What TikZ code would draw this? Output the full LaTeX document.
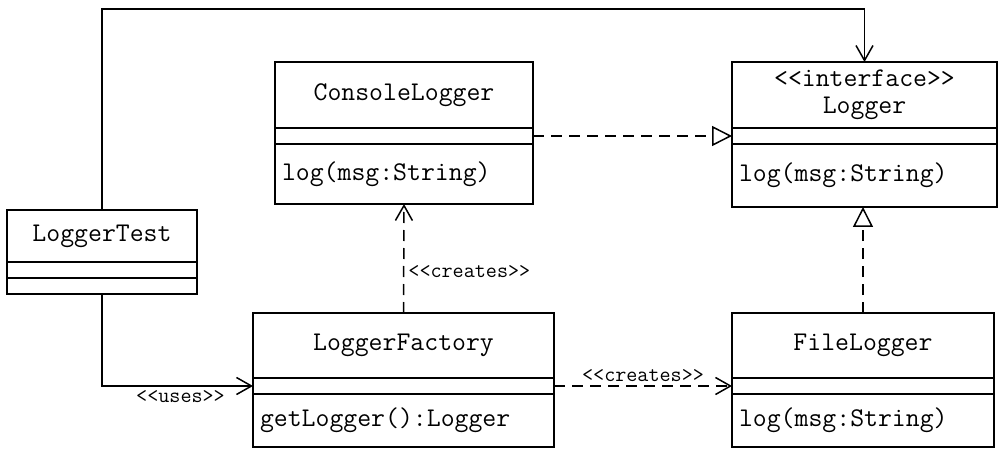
\documentclass[tikz,border=0pt]{standalone}
\usepackage{fontspec}
\usetikzlibrary{arrows.meta,positioning}
\tikzset{
	cbox/.style={draw=black, line width=1.5pt, fill=white, inner sep=0pt,
		outer sep=0pt, font=\fontsize{27}{27}\selectfont\ttfamily},
	chead/.style={cbox, minimum width=#1, minimum height=66, align=center},
	cattr/.style={cbox, minimum width=#1, minimum height=16},
	cops/.style={cbox, minimum width=#1, inner xsep=7pt, align=left},
	usearr/.style={-{Straight Barb[length=15pt,width=17pt,line width=1.5pt]},
		line width=1.5pt},
	mkarr/.style={usearr, dash pattern=on 11pt off 7pt},
	realarr/.style={-{Triangle[open,length=20pt,width=20pt,fill=white,line width=1.5pt]},
		line width=1.5pt, dash pattern=on 11pt off 7pt},
	lbl/.style={font=\fontsize{21.5}{22}\selectfont\ttfamily, inner sep=4pt},
}
\begin{document}
\begin{tikzpicture}[x=1pt, y=-1pt]
	\useasboundingbox (0,0) rectangle (1001,449);
	% classes
	\node[chead=258, anchor=north west] (cl-h) at (275,62) {ConsoleLogger};
	\node[cattr=258, below=0pt of cl-h] (cl-at) {};
	\node[cops=258, minimum height=60, text width=244pt, below=0pt of cl-at] (cl-op) {log(msg:String)};
	\node[chead=265, anchor=north west] (lg-h) at (732,62) {<<interface>>\\Logger};
	\node[cattr=265, below=0pt of lg-h] (lg-at) {};
	\node[cops=265, minimum height=63, text width=251pt, below=0pt of lg-at] (lg-op) {log(msg:String)};
	\node[chead=190, minimum height=52, anchor=north west] (ts-h) at (7,210) {LoggerTest};
	\node[cattr=190, below=0pt of ts-h] (ts-at) {};
	\node[cattr=190, below=0pt of ts-at] (ts-op) {};
	\node[chead=301, minimum height=65, anchor=north west] (fc-h) at (253,313) {LoggerFactory};
	\node[cattr=301, below=0pt of fc-h] (fc-at) {};
	\node[cops=301, minimum height=53, text width=287pt, below=0pt of fc-at] (fc-op) {getLogger():Logger};
	\node[chead=262, minimum height=65, anchor=north west] (fl-h) at (732,313) {FileLogger};
	\node[cattr=262, below=0pt of fl-h] (fl-at) {};
	\node[cops=262, minimum height=53, text width=248pt, below=0pt of fl-at] (fl-op) {log(msg:String)};
	% relations
	\coordinate (top) at (0,9);
	\draw[usearr] (ts-h.north) -- (ts-h.north |- top) -| (lg-h.north);
	\draw[usearr] (ts-op.south) |- node[lbl, below, pos=0.76] {<<uses>>} (fc-at.west);
	\draw[realarr] (cl-at.east) -- (lg-at.west);
	\draw[mkarr] (fc-h.north) -- node[lbl, right, pos=0.38] {<<creates>>} (cl-op.south);
	\draw[mkarr] (fc-at.east) -- node[lbl, above] {<<creates>>} (fl-at.west);
	\draw[realarr] (fl-h.north) -- (fl-h.north |- lg-op.south);
\end{tikzpicture}
\end{document}
